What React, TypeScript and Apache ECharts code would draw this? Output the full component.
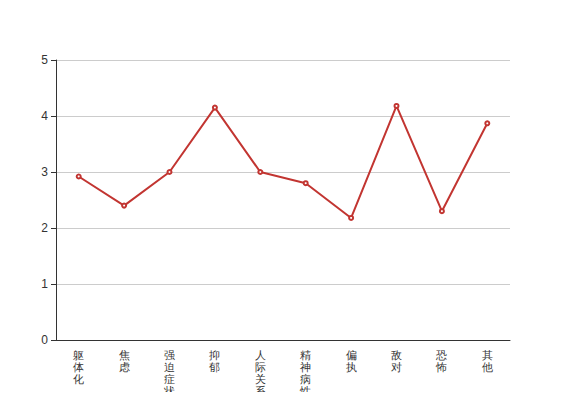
import React, { useEffect, useRef } from "react";
import * as echarts from "echarts";

const categories = ["躯体化", "焦虑", "强迫症状", "抑郁", "人际关系敏感", "精神病性", "偏执", "敌对", "恐怖", "其他"];
const values = [2.92, 2.4, 3.0, 4.15, 3.0, 2.8, 2.18, 4.18, 2.3, 3.87];

export default function App() {
  const ref = useRef<HTMLDivElement>(null);
  useEffect(() => {
    const chart = echarts.init(ref.current!, undefined, { renderer: "svg" });
    chart.setOption({
      animation: false,
      grid: { left: 56, right: 57, top: 60, bottom: 60, containLabel: false, outerBoundsMode: "none" },
      xAxis: {
        type: "category",
        data: categories,
        boundaryGap: true,
        axisLine: { lineStyle: { color: "#333" } },
        axisTick: { lineStyle: { color: "#333" } },
        axisLabel: {
          color: "#333",
          fontSize: 11,
          lineHeight: 12,
          margin: 9,
          interval: 0,
          formatter: (v: string) => v.split("").join("\n"),
        },
      },
      yAxis: {
        type: "value",
        min: 0,
        max: 5,
        interval: 1,
        axisLine: { show: true, lineStyle: { color: "#333" } },
        axisTick: { show: true, lineStyle: { color: "#333" } },
        axisLabel: { color: "#333", fontSize: 12 },
        splitLine: { lineStyle: { color: "#ccc" } },
      },
      series: [
        {
          type: "line",
          data: values,
          symbol: "emptyCircle",
          symbolSize: 4,
          itemStyle: { color: "#c23531" },
          lineStyle: { color: "#c23531", width: 2 },
        },
      ],
    });
    return () => chart.dispose();
  }, []);
  return <div ref={ref} style={{ width: 567, height: 400, margin: -8 }} />;
}
